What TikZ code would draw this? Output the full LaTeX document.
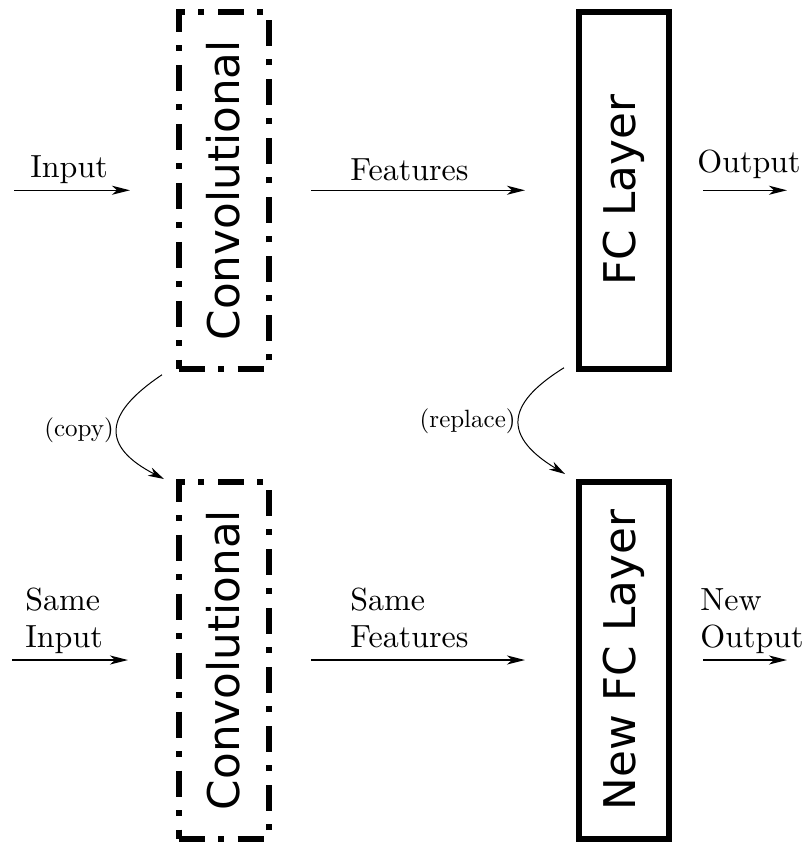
\documentclass[tikz,border=0pt]{standalone}
\usepackage{fontspec}
\newfontfamily\boxfont{DejaVu Sans}
\newfontfamily\lblfont{lmroman10-regular}[Extension=.otf]
\usetikzlibrary{arrows.meta,calc}

\tikzset{
  layerbox/.style={draw, line width=3pt, minimum width=45pt, minimum height=178.5pt,
    inner sep=0pt, font=\boxfont\fontsize{21.85}{26}\selectfont},
  convbox/.style={layerbox, dash pattern=on 13pt off 6.75pt on 3pt off 6.75pt},
  fcbox/.style={layerbox},
  flow/.style={line width=0.75pt, -{Stealth[length=9pt,width=4.5pt,inset=2.5pt]}},
  bendarrow/.style={line width=0.5pt, -{Stealth[length=8pt,width=4.5pt,inset=2.5pt]}},
  lbl/.style={inner sep=0pt, font=\lblfont\fontsize{16}{18.5}\selectfont, align=left},
  smalllbl/.style={inner sep=1.5pt, font=\lblfont\fontsize{12.5}{14}\selectfont},
}

\begin{document}
\begin{tikzpicture}[x=0.5pt, y=-0.5pt]
\path[use as bounding box] (0,0) rectangle (806,843);

% layer boxes
\node[convbox] (conv1) at (223.5,190.25) {\rotatebox{90}{Convolutional}};
\node[fcbox]   (fc1)   at (624,190.25)   {\rotatebox{90}{FC Layer}};
\node[convbox] (conv2) at (223.5,660)    {\rotatebox{90}{Convolutional}};
\node[fcbox]   (fc2)   at (624,660)      {\rotatebox{90}{New FC Layer}};

% free ends of the input and output arrows
\coordinate (in1)  at (14,190.25);
\coordinate (out1) at (787,190.25);
\coordinate (in2)  at (12,660);
\coordinate (out2) at (787,660);

% top row
\draw[flow] (in1) -- ($(conv1.west)+(-45.5,0)$);
\draw[flow] ($(conv1.east)+(39.5,0)$) -- ($(fc1.west)+(-51,0)$);
\draw[flow] ($(fc1.east)+(31,0)$) -- (out1);
\node[lbl, anchor=base west] (tin)   at (30,177)  {Input};
\node[lbl, anchor=base west] (tfeat) at (350,180) {Features};
\node[lbl, anchor=base west] (tout)  at (697,172) {Output};

% bottom row
\draw[flow] (in2) -- ($(conv2.west)+(-47.5,0)$);
\draw[flow] ($(conv2.east)+(39.5,0)$) -- ($(fc2.west)+(-51,0)$);
\draw[flow] ($(fc2.east)+(31,0)$) -- (out2);
\node[lbl, anchor=north west] (bin)   at (25,588)  {Same\\Input};
\node[lbl, anchor=north west] (bfeat) at (350,588) {Same\\Features};
\node[lbl, anchor=north west] (bout)  at (700,588) {New\\Output};

% curved links between the rows
\coordinate (cpA) at ($(conv1.south west)+(-13.5,3)$);
\coordinate (cpB) at ($(conv2.north west)+(-11.5,0.5)$);
\coordinate (rpA) at ($(fc1.south west)+(-12,-4)$);
\coordinate (rpB) at ($(fc2.north west)+(-11,-4.5)$);
\draw[bendarrow] (cpA) .. controls (102,415) and (102,447) .. node[smalllbl, anchor=east, pos=0.5] {(copy)} (cpB);
\draw[bendarrow] (rpA) .. controls (504,405) and (504,437) .. node[smalllbl, anchor=east, pos=0.5] {(replace)} (rpB);
\end{tikzpicture}
\end{document}
